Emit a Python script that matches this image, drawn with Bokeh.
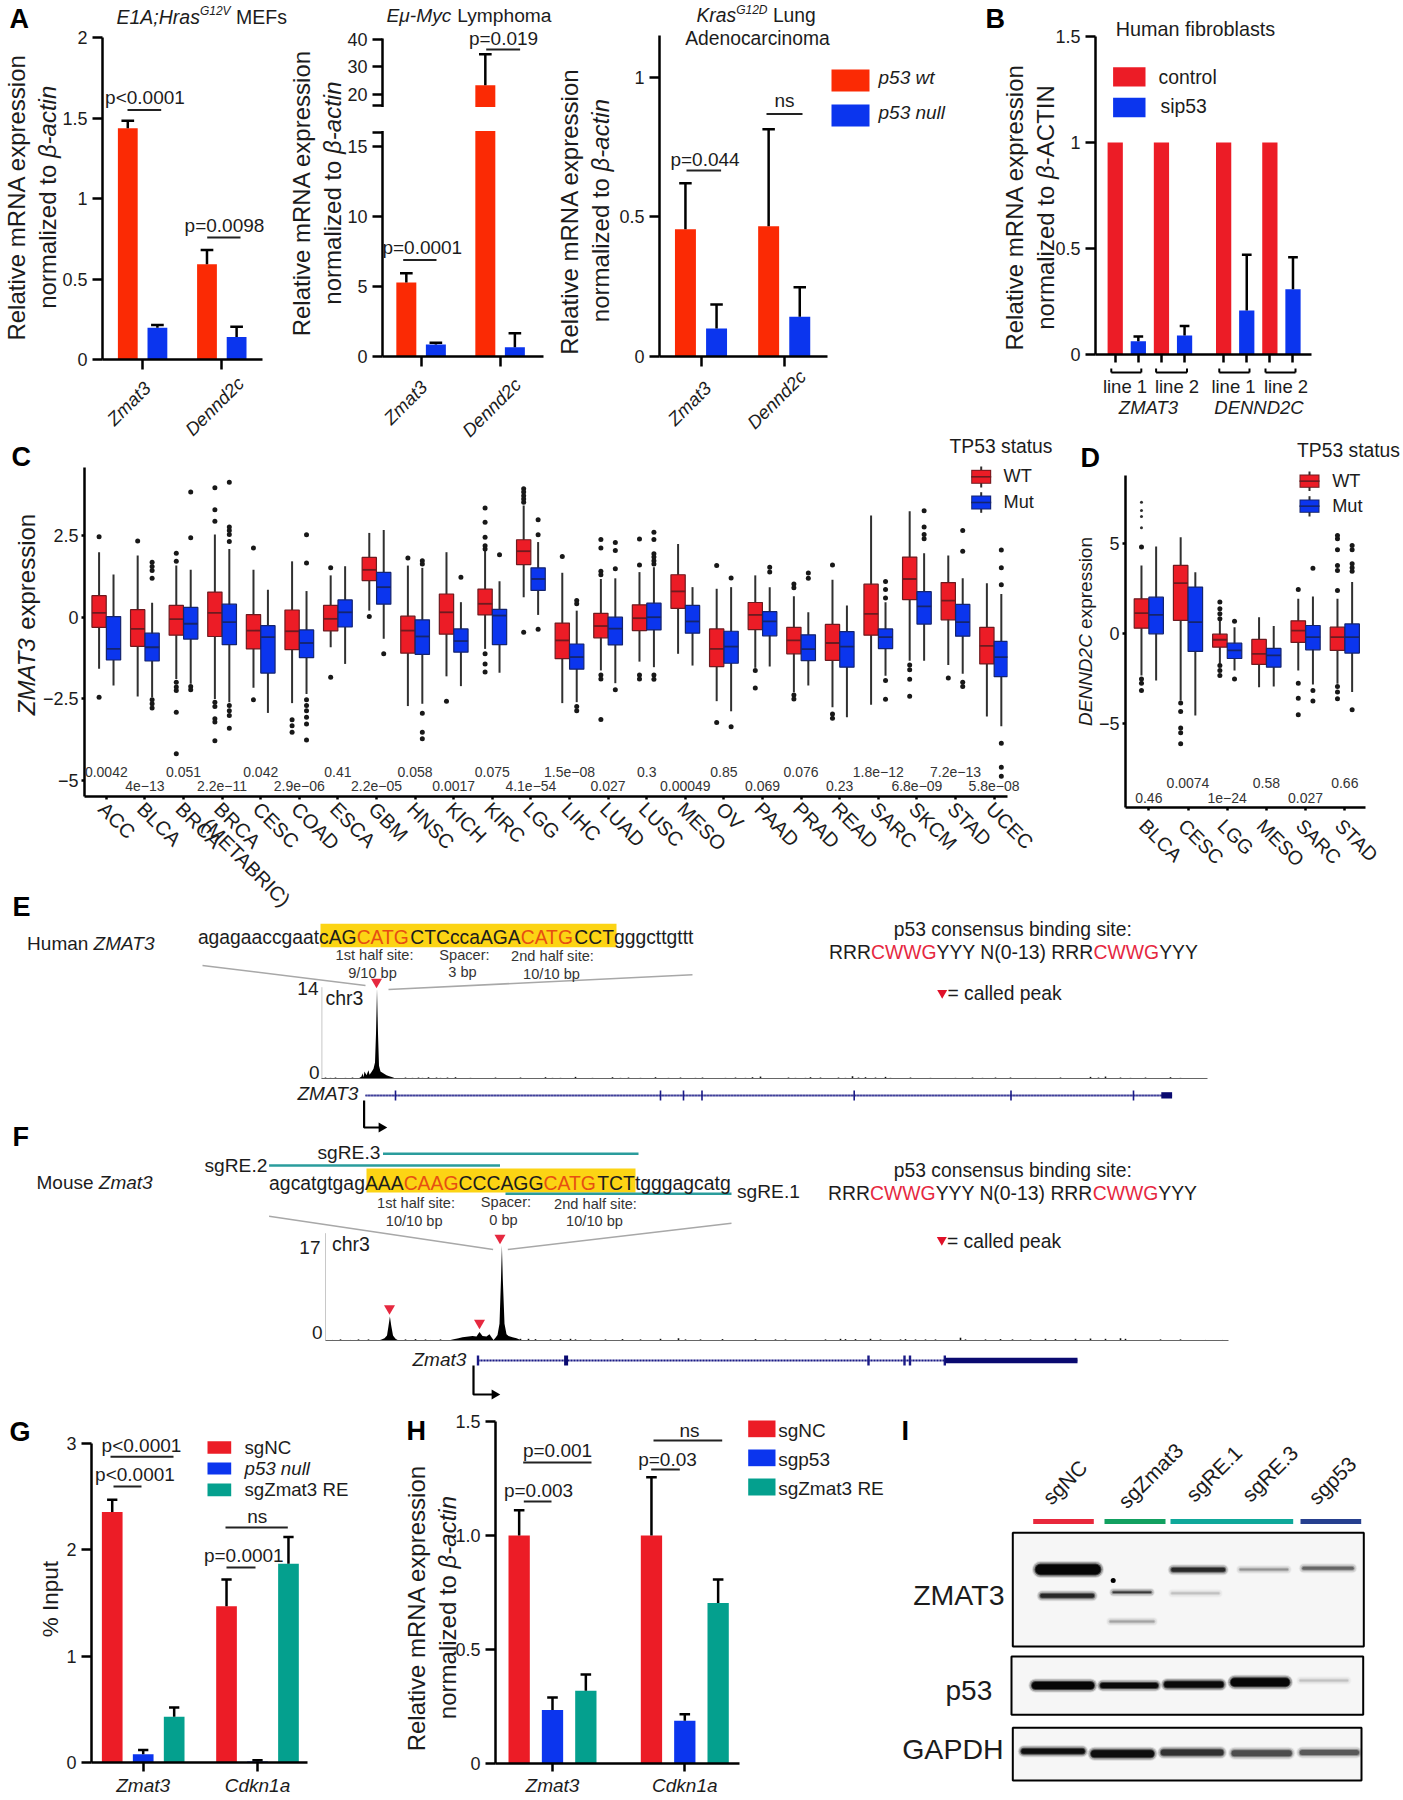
from math import pi
from bokeh.plotting import figure
from bokeh.layouts import row, column
from bokeh.models import Range1d, FixedTicker, Label, BoxAnnotation, Arrow, GridBox
from bokeh.embed import file_html
from bokeh.resources import INLINE

FONT = "Liberation Sans"
INK = "#1c1c1c"
RED_A = "#fb2a04"
RED = "#ec1c26"
BLUE = "#0b35ee"
TEAL = "#04a08e"

# ---------- data: panel A ----------
A_CATS = ["Zmat3", "Dennd2c"]
A1_WT = [1.437, 0.592]
A1_WT_ERR = [1.483, 0.68]
A1_NULL = [0.197, 0.139]
A1_NULL_ERR = [0.215, 0.203]
A2_WT = [5.29, 23.4]
A2_WT_ERR = [5.95, 34.6]
A2_NULL = [0.86, 0.66]
A2_NULL_ERR = [0.98, 1.66]
A3_WT = [0.455, 0.466]
A3_WT_ERR = [0.62, 0.813]
A3_NULL = [0.10, 0.142]
A3_NULL_ERR = [0.186, 0.248]

# ---------- data: panel B ----------
B_POS = [0, 1, 2, 3, 4.69, 5.69, 6.69, 7.69]
B_CONTROL = [1, 1, 1, 1]
B_SIP53 = [0.063, 0.09, 0.208, 0.308]
B_SIP53_ERR = [0.085, 0.134, 0.47, 0.459]

# ---------- data: panel C (lo, q1, median, q3, hi) ----------
C_CATS = ["ACC", "BLCA", "BRCA", "BRCA\n(METABRIC)", "CESC", "COAD", "ESCA", "GBM", "HNSC", "KICH", "KIRC", "LGG",
          "LIHC", "LUAD", "LUSC", "MESO", "OV", "PAAD", "PRAD", "READ", "SARC", "SKCM", "STAD", "UCEC"]
C_WT = [(-1.58, -.31, .13, .66, 1.99), (-2.43, -.89, -.36, .23, 1.89), (-1.89, -.55, -.06, .36, 1.58),
        (-2.5, -.59, .13, .77, 2.53), (-2.16, -.97, -.41, .08, 1.45), (-2.63, -.99, -.43, .22, 1.71),
        (-.92, -.42, -.05, .36, 1.28), (.2, 1.12, 1.45, 1.83, 2.58), (-2.72, -1.1, -.41, .03, 1.58),
        (-1.81, -.52, .15, .71, 1.99), (-.97, .07, .41, .86, 2.04), (.61, 1.61, 2.02, 2.37, 3.42),
        (-2.63, -1.27, -.71, -.18, 1.36), (-1.63, -.63, -.27, .12, 1.17), (-1.36, -.41, -.03, .38, 1.38),
        (-1.12, .27, .79, 1.3, 2.24), (-2.57, -1.51, -.97, -.36, .87), (-1.55, -.38, .07, .45, 1.28),
        (-2.3, -1.12, -.71, -.31, .64), (-2.76, -1.32, -.79, -.22, 1.15), (-2.68, -.55, .1, 1.01, 3.11),
        (-1.33, .54, 1.17, 1.84, 3.24), (-1.46, -.08, .51, 1.06, 1.89), (-3.04, -1.43, -.88, -.31, 1.04)]
C_MUT = [(-2.09, -1.31, -.97, .02, 1.31), (-2.45, -1.34, -.92, -.49, .44), (-2.04, -.67, -.2, .3, 1.45),
         (-2.6, -.84, -.15, .4, 2.09), (-2.93, -1.71, -.61, -.26, .84), (-2.35, -1.24, -.79, -.39, .8),
         (-1.43, -.3, .15, .53, 1.56), (-.66, .4, .92, 1.37, 2.67), (-2.65, -1.14, -.59, -.08, 1.51),
         (-2.11, -1.07, -.73, -.36, .46), (-1.7, -.84, .05, .24, 1.1), (.07, .82, 1.17, 1.51, 2.3),
         (-2.6, -1.59, -1.22, -.82, .2), (-2.02, -.85, -.35, 0, 1.19), (-1.53, -.39, 0, .43, 1.53),
         (-1.48, -.49, -.13, .36, .92), (-2.88, -1.41, -.9, -.43, .92), (-1.51, -.57, -.13, .17, .92),
         (-2.09, -1.33, -.98, -.54, .15), (-3.06, -1.53, -.9, -.44, .36), (-1.79, -.96, -.61, -.36, .46),
         (-1.33, -.21, .33, .78, 1.96), (-1.73, -.58, -.15, .39, 1.19), (-3.34, -1.82, -1.22, -.74, .71)]
C_WT_OUT = [[2.46, -2.45], [2.33], [1.96, 1.71, -1.99, -2.14, -2.24, -2.91, -4.18],
            [3.96, 3.29, 2.94, -2.6, -2.73, -3.11, -3.21, -3.78], [2.12, -2.53], [-3.14, -3.32, -3.52],
            [1.51, -1.84], [.02], [1.81], [-2.57], [3.34, 2.91, 2.45, 2.19, 2.09, -1.12, -1.43, -1.68],
            [3.93, 3.83, 3.72, 3.62, 3.52, -.46], [1.86], [2.38, 2.12, 1.41, 1.3, -1.77, -1.89, -3.13],
            [2.39, 1.6, -1.77, -1.89], [], [1.58, -3.22], [-1.63, -2.17], [1.02, .9, -2.38, -2.5],
            [1.6, -2.96, -3.09], [], [-1.46, -1.61, -1.9, -2.42], [-1.86], []]
C_MUT_OUT = [[], [1.68, 1.55, 1.43, 1.19, -2.53, -2.65, -2.78], [3.83, 2.43, -2.12, -2.22],
             [4.13, 2.76, 2.65, 2.53, 2.32, -2.7, -2.86, -3.01, -3.4], [],
             [2.52, 1.66, -2.53, -2.7, -2.86, -3.06, -3.27, -3.76], [], [-1.12],
             [1.73, 1.63, -2.94, -3.52, -3.72], [1.22], [1.91], [2.98, 2.52, -.37], [.51, .41, -2.73, -2.86],
             [2.29, 2.04, 1.48, -2.22], [2.6, 2.38, 1.94, 1.84, 1.73, 1.63, -1.77, -1.9], [], [1.2, -3.35],
             [1.53, 1.38], [1.35, 1.19], [], [1.09, .85, .59, -1.94, -2.51], [3.26, 2.76, 2.53, 2.4],
             [2.65, 2.02, -1.99, -2.12], [2.06, 1.51, .99, -3.86, -4.59, -4.87]]
C_P = ["0.0042", "4e\u221213", "0.051", "2.2e\u221211", "0.042", "2.9e\u221206", "0.41", "2.2e\u221205", "0.058",
       "0.0017", "0.075", "4.1e\u221254", "1.5e\u221208", "0.027", "0.3", "0.00049", "0.85", "0.069", "0.076",
       "0.23", "1.8e\u221212", "6.8e\u221209", "7.2e\u221213", "5.8e\u221208"]

# ---------- data: panel D ----------
D_CATS = ["BLCA", "CESC", "LGG", "MESO", "SARC", "STAD"]
D_WT = [(-2.31, .31, 1.15, 1.94, 3.79), (-3.7, .74, 2.81, 3.79, 5.36), (-1.66, -.74, -.33, -.02, .74),
        (-2.96, -1.7, -1.11, -.31, .92), (-2.03, -.48, .18, .72, 1.94), (-2.77, -.92, -.18, .37, 1.94)]
D_MUT = [(-2.59, 0, 1.05, 2.03, 4.84), (-4.53, -.98, .65, 2.59, 3.42), (-2.03, -1.37, -.92, -.52, .37),
         (-2.92, -1.85, -1.2, -.81, .43), (-2.81, -.89, -.18, .46, 2.07), (-3.23, -1.07, -.18, .55, 2.87)]
D_WT_OUT = [[4.81, -2.5, -2.74, -3.14], [-3.84, -4.31, -5.23, -5.49, -6.1],
            [1.76, 1.39, 1.11, .83, -1.76, -2.03, -2.31], [], [2.46, -2.74, -3.57, -4.49],
            [5.45, 5.27, 4.66, 3.79, 3.51, 2.4, -2.92, -3.23, -3.6]]
D_WT_SMALL = [5.88, 6.5, 6.84, 7.3]
D_MUT_OUT = [[], [], [.7, -2.5], [], [3.64, -3.14, -3.73], [4.9, 4.66, 3.88, 3.66, 3.47, -4.21]]
D_P = ["0.46", "0.0074", "1e\u221224", "0.58", "0.027", "0.66"]

# ---------- data: panels E / F tracks ----------
E_PEAK_X = [358, 361, 362, 363, 364, 366, 368, 369, 371, 373, 374.5, 375.5, 376.5, 377.5, 378.5, 380, 382, 384, 386, 388, 392, 395]
E_PEAK_V = [0, .3, .8, .2, 1.1, .5, 1.3, .6, 1.0, 1.5, 2.5, 7, 14, 7, 2, 1.1, .9, .7, .5, .4, .2, 0]
E_NOISE_POS = [325, 330, 335, 345, 352, 405, 412, 418, 422, 428, 436, 440, 447, 455, 470, 495, 520, 545, 552, 560,
               575, 592, 612, 620, 628, 640, 655, 668, 680, 695, 702, 725, 735, 745, 752, 760, 788, 795, 805, 810,
               820, 838, 845, 852, 858, 865, 875, 885, 890, 910, 930, 955, 972, 982, 995, 1010, 1035, 1060, 1090,
               1098, 1105, 1120, 1130, 1145, 1170, 1180]
E_NOISE_V = [.15, .1, .15, .1, .15, .15, .1, .15, .1, .2, .15, .1, .15, .2, .1, .15, .15, .2, .1, .1, .25, .1, .2, .1,
             .15, .1, .2, .1, .15, .1, .15, .1, .15, .1, .2, .3, .15, .1, .1, .2, .15, .15, .1, .35, .15, .2, .15,
             .25, .1, .15, .1, .1, .15, .1, .15, .15, .1, .15, .25, .15, .3, .15, .1, .15, .2, .1]
F_PEAK_X = [378, 381, 384, 386.5, 388, 389.4, 390.8, 392.5, 395, 398, 448, 452, 458, 462, 468, 472, 476, 479, 482, 486,
            489, 491, 493, 495, 497, 499, 500.5, 501.4, 502.3, 504, 506, 508, 512, 516, 519, 522]
F_PEAK_V = [0, .2, .4, .9, 2.6, 4.3, 2.6, .9, .3, 0, 0, .2, .4, .6, .7, .8, .7, 1.5, .8, .7, 1.1, .6, .1, .5, 1,
            3, 11, 17, 11, 3, 1.1, .8, .6, .4, .2, 0]
F_NOISE_POS = [332, 340, 350, 358, 368, 405, 415, 425, 430, 440, 520, 528, 535, 550, 560, 570, 575, 590, 605, 622, 640,
               660, 678, 685, 700, 722, 755, 775, 785, 825, 840, 845, 855, 870, 880, 900, 905, 915, 925, 935, 960, 965,
               985, 1000, 1012, 1030, 1045, 1055, 1075, 1090, 1105, 1120, 1125, 1160, 1180, 1205, 1222]
F_NOISE_V = [.1, .2, .1, .2, .2, .2, .25, .2, .1, .2, .3, .3, .25, .2, .25, .3, .2, .2, .2, .25, .2, .3, .4, .2, .2,
             .25, .25, .2, .2, .2, .3, .25, .25, .3, .2, .2, .25, .2, .2, .2, .5, .2, .2, .25, .2, .2, .3, .25, .3,
             .35, .3, .4, .3, .2, .2, .1, .1]
E_EXONS = [395, 660, 683, 701.5, 853.7, 1010.5, 1133]
F_EXONS = [477.5, 868, 904, 909.5, 944.3]

# ---------- data: panel G / H ----------
GH_CATS = ["Zmat3", "Cdkn1a"]
G_NC = [2.355, 1.47]
G_NC_ERR = [2.47, 1.72]
G_NULL = [0.078, 0.01]
G_NULL_ERR = [0.118, 0.02]
G_RE = [0.43, 1.87]
G_RE_ERR = [0.517, 2.12]
H_NC = [1.0, 1.0]
H_NC_ERR = [1.111, 1.255]
H_P53 = [0.235, 0.187]
H_P53_ERR = [0.29, 0.216]
H_RE = [0.319, 0.704]
H_RE_ERR = [0.39, 0.807]

# ---------- data: panel I blot bands (start, end, centre, thickness, darkness) ----------
I_BANDS = [(1040, 1095, 1569, 12, 1.0), (1041.7, 1091.7, 1595.3, 6, .7), (1113, 1150, 1591.7, 3.5, .6),
           (1110, 1153, 1621, 4, .2), (1172.7, 1222.7, 1569.3, 6, .7), (1171.7, 1218, 1592.7, 4, .12),
           (1240, 1286.7, 1569, 4, .25), (1303.3, 1351.7, 1567.7, 5, .4),
           (1035, 1090, 1685, 9, 1.0), (1102.3, 1155, 1685, 7, .95), (1166.7, 1220, 1684, 8, .95),
           (1234.3, 1285, 1681.7, 10, 1.0), (1300, 1346.7, 1680, 4, .12),
           (1023.3, 1081.7, 1750.7, 7, .9), (1094, 1150, 1753.3, 9, .9), (1163.3, 1220, 1752, 8, .65),
           (1234, 1288.3, 1752.7, 8, .5), (1301.7, 1356, 1752, 7, .45)]

# ---------- helpers ----------
_W = {' ': .278, '%': .889, '(': .333, ')': .333, '-': .333, '.': .278, '/': .278, ':': .278, ';': .278, '<': .584,
      '=': .584, 'A': .667, 'B': .667, 'C': .722, 'D': .722, 'E': .667, 'F': .611, 'G': .778, 'H': .722, 'I': .278,
      'J': .5, 'K': .667, 'L': .556, 'M': .833, 'N': .722, 'O': .778, 'P': .667, 'Q': .778, 'R': .722, 'S': .667,
      'T': .611, 'U': .722, 'V': .667, 'W': .944, 'X': .667, 'Y': .667, 'Z': .611, 'a': .556, 'b': .556, 'c': .5,
      'd': .556, 'e': .556, 'f': .278, 'g': .556, 'h': .556, 'i': .222, 'j': .222, 'k': .5, 'l': .222, 'm': .833,
      'n': .556, 'o': .556, 'p': .556, 'q': .556, 'r': .333, 's': .5, 't': .278, 'u': .556, 'v': .5, 'w': .722,
      'x': .5, 'y': .5, 'z': .5, '\u03b2': .578, '\u03bc': .576}


def tw(s, size):
    return sum(_W.get(c, .556) for c in s) * size


def lead(s, size):
    """Width of a piece's leading spaces, which the drawn text would otherwise lose."""
    return tw(s[:len(s) - len(s.lstrip())], size)


def fig(x0, y0, x1, y1, fx0, fy0, fx1, fy1, xr, yr, axes=True):
    kw = {} if axes else {"x_axis_type": None, "y_axis_type": None}
    p = figure(width=x1 - x0, height=y1 - y0, x_range=Range1d(*xr), y_range=Range1d(*yr), output_backend="svg",
               toolbar_location=None, min_border_left=fx0 - x0, min_border_right=x1 - fx1,
               min_border_top=fy0 - y0, min_border_bottom=y1 - fy1, outline_line_color=None,
               background_fill_color="white", border_fill_color="white", frame_align=False, **kw)
    p.grid.visible = False
    return p


PAGE_W, PAGE_H = 1400, 1798
# transparent full-page layer that carries every text and key placed outside a panel's frame
ov = fig(0, 0, PAGE_W, PAGE_H, 0, 0, PAGE_W, PAGE_H, (0, PAGE_W), (PAGE_H, 0), axes=False)
ov.background_fill_alpha = 0
ov.border_fill_alpha = 0


def axes(p, xt, xl, yt, yl, xsize="1px", ysize="18px", xstyle="normal", xout=10, yout=10, lw=2.5, xstand=1, ystand=5):
    xa, ya = p.xaxis[0], p.yaxis[0]
    xa.ticker = FixedTicker(ticks=list(xt))
    ya.ticker = FixedTicker(ticks=list(yt))
    xa.major_label_overrides = dict(zip(xt, xl))
    ya.major_label_overrides = dict(zip(yt, yl))
    for a, out in ((xa, xout), (ya, yout)):
        a.axis_line_width = lw
        a.axis_line_color = "black"
        a.major_tick_line_width = lw
        a.major_tick_line_color = "black"
        a.major_tick_out = out
        a.major_tick_in = 0
        a.minor_tick_line_color = None
        a.major_label_text_font = FONT
        a.major_label_text_color = INK
    xa.major_label_text_font_size = xsize
    ya.major_label_text_font_size = ysize
    xa.major_label_text_font_style = xstyle
    xa.major_label_standoff = xstand
    ya.major_label_standoff = ystand


def txt(x, y, s, size=19, align="left", style="normal", color=INK, angle=0, base="middle"):
    ov.add_layout(Label(x=x, y=y, x_units="canvas", y_units="canvas", text=s, text_font=FONT,
                        text_font_size=f"{size}px", text_font_style=style, text_color=color, text_align=align,
                        text_baseline=base, angle=angle))


def runs(x, y, parts, size=19):
    """Horizontal run of differently styled pieces, left aligned at x."""
    for part in parts:
        s, style, color, sz, dy = (list(part) + ["normal", INK, size, 0][len(part) - 1:])[:5]
        txt(x + lead(s, sz), y + dy, s.strip(), sz, "left", style, color)
        x += tw(s, sz)


def vruns(x, cy, parts, size=24):
    """Vertical label centred at cy, reading upwards."""
    total = sum(tw(s, size) for s, _ in parts)
    y = cy + total / 2
    for s, style in parts:
        txt(x, y - lead(s, size), s.strip(), size, "left", style, INK, pi / 2)
        y -= tw(s, size)


def rect(x0, y0, x1, y1, color):
    ov.add_layout(BoxAnnotation(left=x0, right=x1, top=y0, bottom=y1, left_units="canvas", right_units="canvas",
                                top_units="canvas", bottom_units="canvas", fill_color=color, fill_alpha=1,
                                line_color=None))


def seg(x0, y0, x1, y1, color="black", w=2):
    ov.add_layout(Arrow(end=None, x_start=x0, y_start=y0, x_end=x1, y_end=y1, start_units="canvas",
                        end_units="canvas", line_color=color, line_width=w))


def bars(p, xs, tops, errs, width, color, cap, w=2.5):
    p.vbar(x=xs, width=width, top=tops, bottom=0, fill_color=color, line_color=None)
    p.segment(x0=xs, y0=tops, x1=xs, y1=errs, line_color="black", line_width=w)
    p.segment(x0=[x - cap / 2 for x in xs], y0=errs, x1=[x + cap / 2 for x in xs], y1=errs, line_color="black",
              line_width=w)


def bracket(p, x0, x1, y, w=2):
    p.segment(x0=[x0], y0=[y], x1=[x1], y1=[y], line_color="#222222", line_width=w)


def letter(x, y, s):
    txt(x, y, s, 27, "left", "bold", "black")


def slanted(centres, cats):
    """Gene names at 45 degrees under panels A."""
    for (x, y), s in zip(centres, cats):
        txt(x, y, s, 18.5, "center", "italic", angle=pi / 4)


BETA = [("normalized to ", "normal"), ("\u03b2-actin", "italic")]
REL = [("Relative mRNA expression", "normal")]

# ---------- A1 ----------
c0, sp = 142.1, 79.2
a1 = fig(0, 0, 286, 438, 102, 37, 262, 359, ((102 - c0) / sp, (262 - c0) / sp), (0, 2))
axes(a1, [0, 1], ["", ""], [0, .5, 1, 1.5, 2], ["0", "0.5", "1", "1.5", "2"])
bars(a1, [-.187, .813], A1_WT, A1_WT_ERR, .25, RED_A, .16)
bars(a1, [.187, 1.187], A1_NULL, A1_NULL_ERR, .25, BLUE, .16)
bracket(a1, (127 - c0) / sp, (160.7 - c0) / sp, 1.549)
bracket(a1, (206.7 - c0) / sp, (240 - c0) / sp, .758)
letter(9, 18, "A")
runs(116, 16, [("E1A;Hras", "italic"), ("G12V", "italic", INK, 12, -6), (" MEFs",)], 19.5)
txt(144.5, 97, "p<0.0001", 19, "center")
txt(224, 225, "p=0.0098", 19, "center")
vruns(16, 196.7, REL)
vruns(47, 196.7, BETA)
slanted([(128.3, 403), (214, 405.8)], A_CATS)

# ---------- A2 (broken axis) ----------
GAP, RATIO = 27 / 14, 2.75 / 14


def brk(v):
    return round(v if v <= 16 else 16 + GAP + (v - 16) * RATIO, 4)


c0, sp = 420.6, 79
a2 = fig(286, 0, 558, 438, 382, 38, 543, 356, ((382 - c0) / sp, (543 - c0) / sp), (0, 318 / 14))
a2_pos = [0, 5, 10, 15, 16, 16 + GAP, brk(20), brk(30), brk(40)]
axes(a2, [0, 1], ["", ""], a2_pos, ["0", "5", "10", "15", "", "", "20", "30", "40"])
bars(a2, [-.187, .813], [brk(v) for v in A2_WT], [brk(v) for v in A2_WT_ERR], .253, RED_A, .16)
bars(a2, [.187, 1.187], [brk(v) for v in A2_NULL], [brk(v) for v in A2_NULL_ERR], .253, BLUE, .16)
bracket(a2, (402.7 - c0) / sp, (436 - c0) / sp, 6.9)
bracket(a2, (485.7 - c0) / sp, (519.6 - c0) / sp, brk(36.4))
rect(366, 106.5, 543, 130.5, "white")
runs(386, 15, [("E\u03bc-Myc", "italic"), (" Lymphoma",)], 19.2)
txt(421.8, 246.7, "p=0.0001", 19, "center")
txt(503, 38, "p=0.019", 19, "center")
vruns(301, 192.5, REL)
vruns(332, 192.5, BETA)
slanted([(405, 402), (491, 407)], A_CATS)

# ---------- A3 ----------
c0, sp = 700.5, 83.2
a3 = fig(558, 0, 975, 438, 659, 35, 827, 356, ((659 - c0) / sp, (827 - c0) / sp), (0, 321 / 279.4))
axes(a3, [0, 1], ["", ""], [0, .5, 1], ["0", "0.5", "1"])
bars(a3, [-.187, .813], A3_WT, A3_WT_ERR, .252, RED_A, .15)
bars(a3, [.187, 1.187], A3_NULL, A3_NULL_ERR, .252, BLUE, .15)
bracket(a3, (686 - c0) / sp, (720.6 - c0) / sp, .666)
bracket(a3, (766 - c0) / sp, (802 - c0) / sp, .868)
runs(696, 15, [("Kras", "italic"), ("G12D", "italic", INK, 12, -6), (" Lung",)], 19.3)
txt(757, 37.7, "Adenocarcinoma", 19.3, "center")
txt(704.5, 159, "p=0.044", 19, "center")
txt(784, 100, "ns", 19, "center")
rect(831, 69, 869, 91, RED_A)
rect(831, 104, 869, 126, BLUE)
txt(878, 77, "p53 wt", 19, "left", "italic")
txt(878, 112, "p53 null", 19, "left", "italic")
vruns(569, 211, REL)
vruns(600, 210, BETA)
slanted([(689, 403), (776, 399)], A_CATS)

# ---------- B ----------
sp = 23.1
b = fig(975, 0, PAGE_W, 438, 1095, 36, 1311, 354, (-(1114.7 - 1095) / sp, 7.69 + (1311 - 1292.5) / sp), (0, 1.5))
axes(b, B_POS, [""] * 8, [0, .5, 1, 1.5], ["0", "0.5", "1", "1.5"], xout=8)
bars(b, B_POS[0::2], B_CONTROL, B_CONTROL, .66, RED, .001, .01)
bars(b, B_POS[1::2], B_SIP53, B_SIP53_ERR, .66, BLUE, .42)
for bx0, bx1 in ((1110.8, 1140.8), (1155.6, 1186.5), (1218.8, 1249), (1265, 1295)):
    seg(bx0, 372, bx1, 372)
    seg(bx0, 368, bx0, 372)
    seg(bx1, 368, bx1, 372)
for lx, ls in ((1124.5, "line 1"), (1176.5, "line 2"), (1233, "line 1"), (1285.5, "line 2")):
    txt(lx, 385.7, ls, 18.5, "center")
txt(1148, 406.7, "ZMAT3", 18.5, "center", "italic")
txt(1258.5, 406.7, "DENND2C", 18.5, "center", "italic")
letter(985, 18, "B")
txt(1195, 28, "Human fibroblasts", 19.8, "center")
rect(1112.6, 66.7, 1145, 86, RED)
rect(1112.6, 97.3, 1145, 116.7, BLUE)
txt(1158, 76.7, "control", 19.4)
txt(1160, 105, "sip53", 19.4)
vruns(1014, 206.7, REL)
vruns(1045, 207, [("normalized to ", "normal"), ("\u03b2", "italic"), ("-ACTIN", "normal")])


# ---------- box helper ----------
def boxes(p, rows, outs, shift, width, fill, edge, ms=5):
    xs = [i + shift for i in range(len(rows))]
    lo, q1, med, q3, hi = zip(*rows)
    p.segment(x0=xs, y0=list(lo), x1=xs, y1=list(hi), line_color="#303030", line_width=2)
    p.vbar(x=xs, width=width, top=list(q3), bottom=list(q1), fill_color=fill, line_color=edge, line_width=1.2)
    p.segment(x0=[x - width / 2 for x in xs], y0=list(med), x1=[x + width / 2 for x in xs], y1=list(med),
              line_color=edge, line_width=1.8)
    ox = [x for x, o in zip(xs, outs) for _ in o]
    oy = [v for o in outs for v in o]
    p.scatter(ox, oy, size=ms, color="#181818", line_color=None)


def legend_box(x0, x1, y0, y1, w0, w1, fill, edge):
    mx, my = (x0 + x1) / 2, (y0 + y1) / 2
    seg(mx, w0, mx, w1, "#303030", 2)
    rect(x0, y0, x1, y1, edge)
    rect(x0 + 1, y0 + 1, x1 - 1, y1 - 1, fill)
    rect(x0, my - .8, x1, my + .8, edge)


RED_EDGE, BLUE_EDGE = "#6e1a1f", "#14246e"

# ---------- C ----------
C_SCALE = 32.67
c = fig(0, 438, 1065, 918, 84, 467, 1007, 796, (-(105.8 - 84) / 38.6, 23 + (1007 - 993.6) / 38.6),
        ((616.7 - 796) / C_SCALE, (616.7 - 467) / C_SCALE))
axes(c, list(range(24)), [""] * 24, [-5, -2.5, 0, 2.5], ["\u22125", "\u22122.5", "0", "2.5"], xout=3, yout=3, ystand=3)
boxes(c, C_WT, C_WT_OUT, -.187, .37, RED, RED_EDGE)
boxes(c, C_MUT, C_MUT_OUT, .187, .37, BLUE, BLUE_EDGE)
for i, s in enumerate(C_P):
    txt(105.8 + 38.6 * i, 771.7 if i % 2 == 0 else 785.7, s, 14, "center", color="#333333")
for i, s in enumerate(C_CATS):
    first, _, second = s.partition("\n")
    txt(105.8 + 38.6 * i - 4.3, 805, first, 20, "left", angle=-pi / 4)
    if second:
        txt(205, 821, second, 20, "left", angle=-pi / 4)
letter(11, 456, "C")
letter(12, 906.5, "E")
txt(1000.5, 446, "TP53 status", 19.3, "center")
legend_box(970.7, 990.7, 469.3, 483.3, 466, 487, RED, RED_EDGE)
legend_box(970.7, 990.7, 495, 509, 491.7, 512.3, BLUE, BLUE_EDGE)
txt(1003, 475.7, "WT", 18.2)
txt(1003, 501, "Mut", 18.2)
vruns(26, 614, [("ZMAT3", "italic"), (" expression", "normal")])

# ---------- D ----------
D_SCALE = 18.03
d = fig(1065, 438, PAGE_W, 918, 1125, 475, 1365, 807, ((1125 - 1148.3) / 39.2, 5 + (1365 - 1344.3) / 39.2),
        ((633.3 - 807) / D_SCALE, (633.3 - 475) / D_SCALE))
axes(d, list(range(6)), [""] * 6, [-5, 0, 5], ["\u22125", "0", "5"], xout=3, yout=3, ystand=3)
boxes(d, D_WT, D_WT_OUT, -.187, .37, RED, RED_EDGE)
boxes(d, D_MUT, D_MUT_OUT, .187, .37, BLUE, BLUE_EDGE)
d.scatter([-.187] * len(D_WT_SMALL), D_WT_SMALL, size=3, color="#303030", line_color=None)
for i, s in enumerate(D_P):
    txt(1148.3 + 39.2 * i, 797.7 if i % 2 == 0 else 782.7, s, 14, "center", color="#333333")
for i, s in enumerate(D_CATS):
    txt(1148.3 + 39.2 * i - 6, 821.7, s, 19.5, "left", angle=-pi / 4)
letter(1080, 457.5, "D")
txt(1348, 450, "TP53 status", 19.3, "center")
legend_box(1299, 1319, 474, 487.3, 471, 490.5, RED, RED_EDGE)
legend_box(1299, 1319, 499, 512.3, 495.7, 516, BLUE, BLUE_EDGE)
txt(1331.7, 480, "WT", 18.2)
txt(1331.7, 505, "Mut", 18.2)
vruns(1085, 631, [("DENND2C", "italic"), (" expression", "normal")], 19)

# ---------- E / F ----------
e = fig(0, 918, PAGE_W, 1405, 0, 918, PAGE_W, 1405, (0, PAGE_W), (1405, 918), axes=False)
E_UNIT, F_UNIT = 90 / 14, 95 / 17
e.extra_y_ranges = {"E": Range1d((1078 - 1405) / E_UNIT, (1078 - 918) / E_UNIT),
                    "F": Range1d((1340 - 1405) / F_UNIT, (1340 - 918) / F_UNIT)}
YEL = "#fcd414"
ORG = "#e64f12"
PINK = "#e6283f"
GR = "#a8a8a8"
NAVY = "#1a1a86"


def seqline(x, y, parts, size=19.3):
    runs(x, y, [(s, "normal", col) for s, col in parts], size)


def track(key, bx0, bx1, px, pv, nx, nv):
    e.varea(x=px, y1=[0] * len(px), y2=pv, fill_color="black", y_range_name=key)
    e.segment(x0=nx, y0=[0] * len(nx), x1=nx, y1=nv, line_color="#111111", line_width=1.6, y_range_name=key)
    e.segment(x0=[bx0], y0=[0], x1=[bx1], y1=[0], line_color="#666666", line_width=1, y_range_name=key)


# E
e.quad(left=[320], right=[616], top=[923.3], bottom=[946.7], fill_color=YEL, line_color=None)
txt(26.6, 943, "Human", 19)
txt(26.6 + tw("Human ", 19), 943, "ZMAT3", 19, "left", "italic")
seqline(197.4, 936.7, [("agagaaccgaatcAG", INK), ("CATG", ORG), ("CTCccaAGA", INK), ("CATG", ORG), ("CCT", INK),
                       ("gggcttgttt", INK)])
for x, y, s in ((374, 954, "1st half site:"), (372, 972, "9/10 bp"), (464, 954, "Spacer:"), (462, 971.7, "3 bp"),
                (552, 955.7, "2nd half site:"), (551, 973, "10/10 bp")):
    txt(x, y, s, 14.6, "center", color="#333333")
e.segment(x0=[202, 388], y0=[965, 989], x1=[365, 692], y1=[985, 974.3], line_color=GR, line_width=1.5)
e.scatter([376], [981.5], marker="inverted_triangle", size=11, color=PINK, line_color=None)
txt(318, 988, "14", 19, "right")
txt(319, 1072, "0", 19, "right")
txt(325, 997, "chr3", 19.5)
e.segment(x0=[321.4], y0=[986.7], x1=[321.4], y1=[1078], line_color="#c8c8c8", line_width=1)
track("E", 321, 1207, E_PEAK_X, E_PEAK_V, E_NOISE_POS, E_NOISE_V)
txt(297, 1093, "ZMAT3", 19, "left", "italic")
e.segment(x0=[365], y0=[1095], x1=[1171.6], y1=[1095], line_color="#6a6ab0", line_width=2)
e.segment(x0=[365], y0=[1095], x1=[1171.6], y1=[1095], line_color=NAVY, line_width=1.6, line_dash="1 2")
e.segment(x0=E_EXONS, y0=[1090] * len(E_EXONS), x1=E_EXONS, y1=[1100] * len(E_EXONS), line_color=NAVY, line_width=1.6)
e.quad(left=[1160.8], right=[1171.6], top=[1091.7], bottom=[1098], fill_color="#0a0a70", line_color=None)
e.line([363.6, 363.6, 380], [1100, 1127, 1127], line_color="black", line_width=2.2)
e.scatter([381], [1127], marker="triangle", angle=-pi / 2, size=10, color="black", line_color=None)


def consensus(x, y1, y2):
    txt(1012.3, y1, "p53 consensus binding site:", 19.3, "center")
    seqline(x, y2, [("RRR", INK), ("CWWG", PINK), ("YYY N(0-13) RRR", INK), ("CWWG", PINK), ("YYY", INK)], 19.36)


consensus(828.5, 929, 951.7)
e.scatter([941.7], [992.5], marker="inverted_triangle", size=10, color="#e01028", line_color=None)
txt(947, 993, "= called peak", 19.3)

# F
letter(12, 1136, "F")
txt(36, 1181.7, "Mouse", 19)
txt(36 + tw("Mouse ", 19), 1181.7, "Zmat3", 19, "left", "italic")
e.quad(left=[366], right=[635], top=[1168], bottom=[1192], fill_color=YEL, line_color=None)
txt(317, 1152, "sgRE.3", 19.2)
txt(204, 1165, "sgRE.2", 19.2)
txt(736.5, 1190.7, "sgRE.1", 19.2)
e.segment(x0=[382.5, 268.6, 505], y0=[1153.3, 1165, 1193.3], x1=[638, 499.5, 731], y1=[1153.3, 1165, 1193.3],
          line_color="#2a9c9c", line_width=2.6)
seqline(268.6, 1182.3, [("agcatgtgagAAA", INK), ("CAAG", ORG), ("CCCAGG", INK), ("CATG", ORG), ("TCT", INK),
                        ("tgggagcatg", INK)], 19.36)
for x, y, s in ((415.5, 1202.7, "1st half site:"), (413.7, 1220, "10/10 bp"), (505.5, 1201.7, "Spacer:"),
                (503, 1219, "0 bp"), (595, 1203.3, "2nd half site:"), (594, 1220.7, "10/10 bp")):
    txt(x, y, s, 14.6, "center", color="#333333")
e.segment(x0=[268.6, 507.3], y0=[1215.7, 1249], x1=[492.6, 731], y1=[1249, 1222.7], line_color=GR, line_width=1.5)
e.scatter([499.5, 389, 479], [1237.5, 1308, 1322.5], marker="inverted_triangle", size=11, color=PINK, line_color=None)
txt(320, 1246.7, "17", 19, "right")
txt(322, 1332, "0", 19, "right")
txt(331.5, 1243.3, "chr3", 19.5)
e.segment(x0=[325], y0=[1232.7], x1=[325], y1=[1340], line_color="#c8c8c8", line_width=1)
track("F", 325, 1228, F_PEAK_X, F_PEAK_V, F_NOISE_POS, F_NOISE_V)
txt(412, 1359.3, "Zmat3", 19, "left", "italic")
e.segment(x0=[477.5], y0=[1360], x1=[1077], y1=[1360], line_color="#6a6ab0", line_width=2)
e.segment(x0=[477.5], y0=[1360], x1=[1077], y1=[1360], line_color=NAVY, line_width=1.6, line_dash="1 2")
e.segment(x0=F_EXONS, y0=[1355] * len(F_EXONS), x1=F_EXONS, y1=[1365] * len(F_EXONS), line_color=NAVY, line_width=2.4)
e.quad(left=[563.6, 944.3], right=[567.6, 1077], top=[1355, 1357.3], bottom=[1365, 1362.7], fill_color="#0a0a70",
       line_color=None)
e.line([473, 473, 493], [1365, 1394, 1394], line_color="black", line_width=2.2)
e.scatter([494], [1394], marker="triangle", angle=-pi / 2, size=10, color="black", line_color=None)
consensus(827.6, 1170, 1192.3)
e.scatter([941.3], [1239.5], marker="inverted_triangle", size=10, color="#e01028", line_color=None)
txt(946.5, 1240.7, "= called peak", 19.3)

# ---------- G ----------
c0, sp = 142.7, 114.3
g = fig(0, 1405, 402, PAGE_H, 91, 1443, 307, 1764, ((91 - c0) / sp, (307 - c0) / sp), (0, 3))
axes(g, [0, 1], GH_CATS, [0, 1, 2, 3], ["0", "1", "2", "3"], "19px", "18px", "italic", xout=9, xstand=3)
bars(g, [-.271, .729], G_NC, G_NC_ERR, .181, RED, .09)
bars(g, [0, 1], G_NULL, G_NULL_ERR, .181, BLUE, .09)
bars(g, [.271, 1.271], G_RE, G_RE_ERR, .181, TEAL, .09)
bracket(g, (110 - c0) / sp, (173 - c0) / sp, 2.875)
bracket(g, (113 - c0) / sp, (141 - c0) / sp, 2.595)
bracket(g, (225 - c0) / sp, (287.3 - c0) / sp, 2.21)
bracket(g, (226 - c0) / sp, (255 - c0) / sp, 1.835)
letter(9, 1431, "G")
txt(141, 1445, "p<0.0001", 19, "center")
txt(134.5, 1474, "p<0.0001", 19, "center")
txt(256.7, 1516, "ns", 19, "center")
txt(243.3, 1555, "p=0.0001", 19, "center")
rect(207, 1440.7, 230.7, 1453.3, RED)
rect(207, 1462, 230.7, 1474, BLUE)
rect(207, 1483, 230.7, 1495.7, TEAL)
txt(244, 1446.7, "sgNC", 18.7)
txt(244, 1468, "p53 null", 18.7, "left", "italic")
txt(244, 1489, "sgZmat3 RE", 18.7)
vruns(50, 1598.7, [("% Input", "normal")], 22.5)

# ---------- H ----------
c0, sp = 552, 132.3
h = fig(402, 1405, 890, PAGE_H, 495, 1421, 739, 1766, ((495 - c0) / sp, (739 - c0) / sp), (0, 1.5))
axes(h, [0, 1], GH_CATS, [0, .5, 1, 1.5], ["0", "0.5", "1.0", "1.5"], "19px", "18px", "italic", xout=8, xstand=3)
bars(h, [-.252, .748], H_NC, H_NC_ERR, .161, RED, .08)
bars(h, [0, 1], H_P53, H_P53_ERR, .161, BLUE, .08)
bars(h, [.252, 1.252], H_RE, H_RE_ERR, .161, TEAL, .08)
bracket(h, (523.3 - c0) / sp, (551 - c0) / sp, 1.149)
bracket(h, (522.7 - c0) / sp, (591 - c0) / sp, 1.32)
bracket(h, (650.7 - c0) / sp, (679.3 - c0) / sp, 1.29)
bracket(h, (653 - c0) / sp, (721.7 - c0) / sp, 1.417)
letter(406, 1430, "H")
txt(538, 1490, "p=0.003", 19, "center")
txt(557, 1450, "p=0.001", 19, "center")
txt(667, 1459, "p=0.03", 19, "center")
txt(689, 1430, "ns", 19, "center")
rect(747.7, 1420, 775, 1436.7, RED)
rect(747.7, 1449, 775, 1465.7, BLUE)
rect(747.7, 1478, 775, 1495, TEAL)
txt(777.7, 1430, "sgNC", 19)
txt(777.7, 1459, "sgp53", 19)
txt(777.7, 1488, "sgZmat3 RE", 19)
vruns(415.7, 1607.5, REL)
vruns(446.7, 1607, BETA)

# ---------- I ----------
i_ = fig(890, 1405, PAGE_W, PAGE_H, 890, 1405, PAGE_W, PAGE_H, (890, PAGE_W), (PAGE_H, 1405), axes=False)
i_.quad(left=[1012.3, 1011, 1012.3], right=[1363.3, 1362.7, 1361], top=[1532.3, 1656, 1727.3],
        bottom=[1646, 1714.3, 1780], fill_color="#f6f6f6", line_color="black", line_width=2)
bx0, bx1, by, bh, bd = zip(*I_BANDS)
for extra, a in ((5, .12), (3, .25), (0, .6), (-2, .9)):
    i_.segment(x0=list(bx0), y0=list(by), x1=list(bx1), y1=list(by), line_color="black", line_cap="round",
               line_width=[max(t + extra, 1) for t in bh], line_alpha=[v * a for v in bd])
i_.scatter([1112.7], [1580], size=5, color="black", line_color=None)
i_.quad(left=[1032.7, 1104, 1170, 1300], right=[1093.3, 1165, 1292.7, 1360.7], top=[1518.5] * 4, bottom=[1523.5] * 4,
        fill_color=["#e8283c", "#12a060", "#0fa89a", "#26408f"], line_color=None)
letter(901, 1430, "I")
for x, y, s in ((1064.3, 1481.7, "sgNC"), (1150, 1475, "sgZmat3"), (1213.3, 1473, "sgRE.1"), (1269.3, 1473, "sgRE.3"),
                (1331.7, 1480, "sgp53")):
    txt(x, y, s, 21, "center", angle=pi / 4)
txt(912.7, 1594, "ZMAT3", 28.5)
txt(945, 1690, "p53", 28)
txt(901.7, 1748, "GAPDH", 28.5)

panels = column(row(a1, a2, a3, b), row(c, d), e, row(g, h, i_))
page = GridBox(children=[(panels, 0, 0), (ov, 0, 0)])
open("out.html", "w").write(file_html(page, INLINE))
